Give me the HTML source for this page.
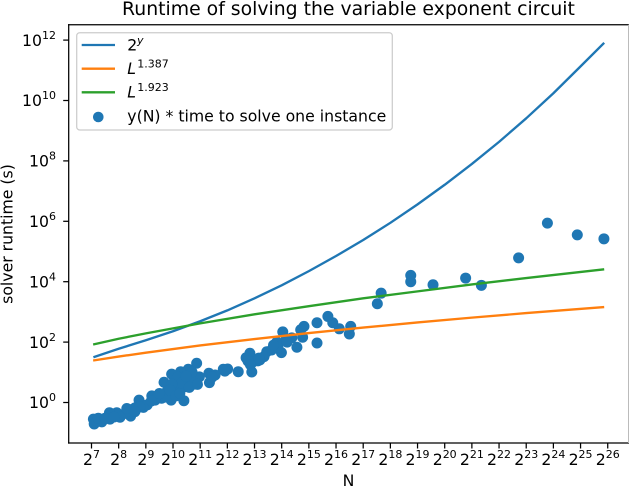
<!DOCTYPE html>
<html>
<head>
<meta charset="utf-8">
<title>Runtime of solving the variable exponent circuit</title>
<style>
html,body{margin:0;padding:0;background:#fff;}
svg{display:block;font-family:"DejaVu Sans","Liberation Sans",sans-serif;fill:#000;}
</style>
</head>
<body>
<svg id="chart" width="629" height="488" viewBox="0 0 629 488" xmlns="http://www.w3.org/2000/svg">
  <rect x="0" y="0" width="629" height="488" fill="#fff"/>
  <text x="348.5" y="15" font-size="18.83" text-anchor="middle">Runtime of solving the variable exponent circuit</text>
  <g id="scatter"></g>
  <g id="lines"></g>
  <g id="x-ticks"></g>
  <g id="y-ticks"></g>
  <line x1="68.7" y1="24.1" x2="68.7" y2="443.6" stroke="#000" stroke-width="1.25"/>
  <line x1="68.1" y1="443" x2="629" y2="443" stroke="#000" stroke-width="1.25"/>
  <line x1="68.1" y1="24.7" x2="629" y2="24.7" stroke="#000" stroke-width="1.25"/>
  <line x1="628.5" y1="24.7" x2="628.5" y2="443" stroke="#bbb" stroke-width="1"/>
  <text x="348.5" y="486" font-size="15.7" text-anchor="middle">N</text>
  <text x="12.7" y="234" font-size="15.7" text-anchor="middle" transform="rotate(-90 12.7 234)">solver runtime (s)</text>
  <g>
    <rect x="76.7" y="32.7" width="315.6" height="97.3" rx="3.1" fill="#fff" fill-opacity="0.8" stroke="#ccc" stroke-width="1.25"/>
    <line x1="81.7" y1="45" x2="115" y2="45" stroke="#1f77b4" stroke-width="2.35"/>
    <text x="127.3" y="50.7" font-size="15.7">2<tspan x="137" y="44" font-size="11" font-style="italic">y</tspan></text>
    <line x1="81.7" y1="68.7" x2="115" y2="68.7" stroke="#ff7f0e" stroke-width="2.35"/>
    <text x="127.3" y="74" font-size="15.7"><tspan font-style="italic">L</tspan><tspan x="137.3" y="67.3" font-size="11">1.387</tspan></text>
    <line x1="81.7" y1="92.3" x2="115" y2="92.3" stroke="#2ca02c" stroke-width="2.35"/>
    <text x="127.3" y="97.5" font-size="15.7"><tspan font-style="italic">L</tspan><tspan x="137.3" y="90.8" font-size="11">1.923</tspan></text>
    <circle cx="98.3" cy="117" r="5.3" fill="#1f77b4"/>
    <text x="127.3" y="121.7" font-size="15.7">y(N) * time to solve one instance</text>
  </g>
</svg>
<script>
var xTickExponents = [7,8,9,10,11,12,13,14,15,16,17,18,19,20,21,22,23,24,25,26];
var yTickExponents = [0,2,4,6,8,10,12];

var expLog2N = [7.07,8,9,10,11,12,13,14,15,16,17,18,19,20,21,22,23,24,25,25.87];
var expLog10T = [1.5,1.78,2.06,2.36,2.69,3.05,3.45,3.88,4.35,4.85,5.38,5.95,6.56,7.21,7.9,8.63,9.41,10.24,11.13,11.91];

var lowLog2N = [7.06,8,9,11,13,15,17,19,21,23,25.87];
var lowLog10T = [1.39,1.52,1.65,1.89,2.1,2.3,2.48,2.65,2.81,2.96,3.16];

var highLog2N = [7.06,8,9,11,13,15,17,19,21,23,25.87];
var highLog10T = [1.92,2.11,2.29,2.62,2.92,3.19,3.45,3.68,3.91,4.12,4.41];

var pointLog2N = [23.78,24.88,25.86,22.72,20.77,21.35,19.57,18.75,18.75,17.66,17.52,16.54,16.49,16.12,15.88,15.7,15.3,15.3,14.82,14.7,14.77,14.56,14.04,14.37,13.99,13.82,14.16,13.63,13.45,13.35,13.2,13.86,12.83,12.69,12.9,12.4,13.12,12.94,12.76,11.85,12.01,11.91,11.55,11.32,11.34,11.44,10.87,10.56,10.28,9.95,10.97,10.81,10.4,10.44,10.07,9.93,9.67,9.77,9.58,9.22,9.34,8.75,8.91,9.05,8.48,8.44,8.23,7.93,7.66,8.05,7.68,7.38,7.07,7.1,7.25,7.5,7.83,8.6,8.78,10.18,10.63,10.33,9.96,9.41,9.71,10.7,10.48,9.89,10.11,13.16,8.3,8.6,9.2,9.5,10.25,10.6,10.9,12.85,14.2,13.7];
var pointLog10T = [5.94,5.55,5.42,4.79,4.12,3.88,3.9,4.21,4.0,3.62,3.27,2.52,2.27,2.44,2.64,2.85,2.64,1.97,2.52,2.41,2.16,1.83,2.34,2.14,1.65,2.0,2.1,1.74,1.68,1.52,1.41,1.84,1.63,1.48,1.01,1.02,1.38,1.34,1.37,1.1,1.11,1.04,0.91,0.97,0.66,0.84,1.3,1.1,1.02,0.94,0.85,0.61,0.06,0.52,0.41,0.08,0.67,0.36,0.14,0.22,0.08,0.08,-0.16,-0.08,-0.23,-0.45,-0.36,-0.34,-0.34,-0.49,-0.55,-0.64,-0.55,-0.71,-0.52,-0.52,-0.48,-0.18,-0.15,0.84,0.81,0.65,0.61,0.18,0.18,1.01,0.87,0.41,0.22,1.47,-0.2,-0.3,0.05,0.3,0.3,0.5,0.6,1.25,2.0,1.9];

var SVG_NS = 'http://www.w3.org/2000/svg';

function xScale(log2N) {
  return 91.5 + (log2N - 7) * 27.17;
}
function yScale(log10T) {
  return 402.5 - log10T * 30.2;
}
function make(tag, attrs) {
  var el = document.createElementNS(SVG_NS, tag);
  for (var k in attrs) { el.setAttribute(k, attrs[k]); }
  return el;
}

var scatterGroup = document.getElementById('scatter');
pointLog2N.forEach(function (v, i) {
  var c = make('circle', { cx: xScale(v), cy: yScale(pointLog10T[i]), r: 5.5, fill: '#1f77b4' });
  
  
  scatterGroup.appendChild(c);
});

function drawLine(xs, ys, color, name) {
  var pts = xs.map(function (v, i) { return xScale(v) + ',' + yScale(ys[i]); }).join(' ');
  var line = make('polyline', { points: pts, fill: 'none', stroke: color, 'stroke-width': 2.35, 'stroke-linejoin': 'round' });
  
  
  document.getElementById('lines').appendChild(line);
}
drawLine(expLog2N, expLog10T, '#1f77b4', 'exponential-line');
drawLine(lowLog2N, lowLog10T, '#ff7f0e', 'low-exponent-line');
drawLine(highLog2N, highLog10T, '#2ca02c', 'high-exponent-line');

var xTickGroup = document.getElementById('x-ticks');
xTickExponents.forEach(function (e) {
  var x = xScale(e);
  var tick = make('line', { x1: x, y1: 443, x2: x, y2: 448.5, stroke: '#000', 'stroke-width': 1.25 });
  
  
  xTickGroup.appendChild(tick);
  var label = make('text', { x: x, y: 465, 'font-size': 15.7, 'text-anchor': 'middle' });
  
  
  label.appendChild(document.createTextNode('2'));
  var sup = make('tspan', { dy: -7, 'font-size': 11 });
  sup.textContent = String(e);
  label.appendChild(sup);
  xTickGroup.appendChild(label);
});

var yTickGroup = document.getElementById('y-ticks');
yTickExponents.forEach(function (e) {
  var y = yScale(e);
  var tick = make('line', { x1: 63.2, y1: y, x2: 68.7, y2: y, stroke: '#000', 'stroke-width': 1.25 });
  
  
  yTickGroup.appendChild(tick);
  var label = make('text', { x: 56, y: y + 5.7, 'font-size': 15.7, 'text-anchor': 'end' });
  
  
  label.appendChild(document.createTextNode('10'));
  var sup = make('tspan', { dy: -7, 'font-size': 11 });
  sup.textContent = String(e);
  label.appendChild(sup);
  yTickGroup.appendChild(label);
});
</script>
</body>
</html>
